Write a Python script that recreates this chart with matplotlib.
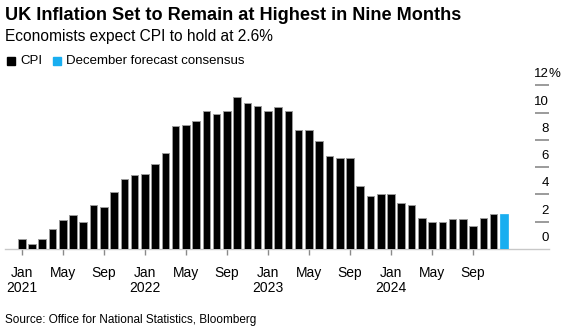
import matplotlib
matplotlib.use("Agg")
import matplotlib.pyplot as plt
from matplotlib.patches import Rectangle
import matplotlib.transforms as mtransforms

plt.rcParams['font.family'] = ['Liberation Sans', 'DejaVu Sans']

# ---- data ----
cpi = [0.7, 0.4, 0.7, 1.5, 2.1, 2.5, 2.0, 3.2, 3.1, 4.2, 5.1, 5.4,
       5.5, 6.2, 7.0, 9.0, 9.1, 9.4, 10.1, 9.9, 10.1, 11.1, 10.7, 10.5,
       10.1, 10.4, 10.1, 8.7, 8.7, 7.9, 6.8, 6.7, 6.7, 4.6, 3.9, 4.0,
       4.0, 3.4, 3.2, 2.3, 2.0, 2.0, 2.2, 2.2, 1.7, 2.3, 2.6]
forecast = [2.6]
month_names = ["Jan", "May", "Sep"]
years = ["2021", "2022", "2023", "2024"]
y_ticks = [0, 2, 4, 6, 8, 10, 12]

W, H = 566, 328
fig = plt.figure(figsize=(W / 100, H / 100), dpi=100)

def fx(px):
    return px / W

def fy(py):
    return 1 - py / H

ax_left, ax_right, ax_top, ax_bot = 5, 549, 85.2, 249
ax = fig.add_axes([fx(ax_left), fy(ax_bot), fx(ax_right - ax_left), (ax_bot - ax_top) / H])

x_cpi = list(range(len(cpi)))
x_fc = [len(cpi) + i for i in range(len(forecast))]
ax.bar(x_cpi, cpi, width=0.74, color='black', edgecolor='#9a9a9a', linewidth=0.7, zorder=3)
ax.bar(x_fc, forecast, width=0.74, color='#19AEF0', edgecolor='#19AEF0', linewidth=0.5, zorder=3)

ax.set_xlim(-1.63, 51.4)
ax.set_ylim(0, 12)

for s in ['top', 'right', 'left']:
    ax.spines[s].set_visible(False)
ax.spines['bottom'].set_color('#c8c8c8')
ax.spines['bottom'].set_linewidth(1.0)
ax.set_yticks([])

# x ticks
tick_pos, tick_lab = [], []
for i in range(0, len(cpi) + len(forecast), 4):
    m = month_names[(i // 4) % 3]
    if m == "Jan":
        lab = m + "\n" + years[i // 12]
    else:
        lab = m
    tick_pos.append(i)
    tick_lab.append(lab)
ax.set_xticks(tick_pos)
ax.set_xticklabels(tick_lab, fontsize=10, linespacing=1.15)
ax.tick_params(axis='x', length=4, width=1, color='#8a8a8a', pad=8, labelcolor='black')

# right-side y labels with short dashes
trans = mtransforms.blended_transform_factory(ax.transAxes, ax.transData)
frac_l = (535 - ax_left) / (ax_right - ax_left)
for v in y_ticks:
    if v > 0:
        ax.plot([frac_l, 1.0], [v, v], transform=trans, color='#8a8a8a', lw=1.2,
                clip_on=False, solid_capstyle='butt')
    ax.text(1.0, v + 0.58, str(v), transform=trans, ha='right', va='baseline',
            fontsize=9.5, clip_on=False)
    if v == 12:
        ax.text(1.0, v + 0.58, "%", transform=trans, ha='left', va='baseline',
                fontsize=9.5, clip_on=False)

# titles
fig.text(fx(5), fy(20), "UK Inflation Set to Remain at Highest in Nine Months",
         fontsize=13.1, fontweight='bold', ha='left', va='baseline')
fig.text(fx(5), fy(41), "Economists expect CPI to hold at 2.6%",
         fontsize=11.2, ha='left', va='baseline')

# legend
fig.patches.append(Rectangle((fx(7), fy(64.5)), fx(7.5), 7.5 / H, transform=fig.transFigure,
                             color='black'))
fig.text(fx(20), fy(64.5), "CPI", fontsize=9.5, ha='left', va='baseline')
fig.patches.append(Rectangle((fx(53), fy(64.5)), fx(7.5), 7.5 / H, transform=fig.transFigure,
                             color='#19AEF0'))
fig.text(fx(66), fy(64.5), "December forecast consensus", fontsize=9.5, ha='left', va='baseline')

# source
fig.text(fx(5), fy(322.5), "Source: Office for National Statistics, Bloomberg",
         fontsize=8.5, ha='left', va='baseline')

fig.savefig("out.png", dpi=100)
